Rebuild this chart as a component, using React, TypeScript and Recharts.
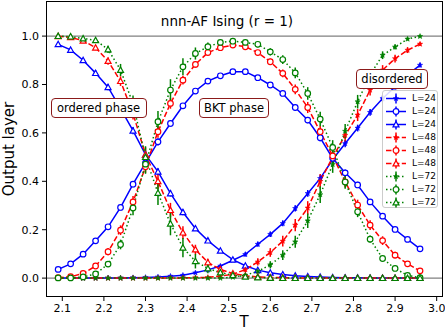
import React from 'react'
import { LineChart, Line, XAxis, YAxis, ReferenceLine, ErrorBar } from 'recharts'

// temperatures
const temps = [2.09, 2.12, 2.15, 2.18, 2.21, 2.24, 2.27, 2.30, 2.33, 2.36, 2.39, 2.42, 2.45, 2.48, 2.51,
  2.54, 2.57, 2.60, 2.63, 2.66, 2.69, 2.72, 2.75, 2.78, 2.81, 2.84, 2.87, 2.90, 2.93, 2.96]

// L=24 outputs (disordered, BKT, ordered) and errors
const l24Dis = [0, 0, 0, 0.0005, 0.001, 0.001, 0.002, 0.003, 0.005, 0.008, 0.012, 0.022, 0.034, 0.05, 0.074,
  0.098, 0.14, 0.181, 0.226, 0.288, 0.35, 0.412, 0.49, 0.556, 0.62, 0.685, 0.742, 0.79, 0.84, 0.88]
const l24Bkt = [0.036, 0.059, 0.099, 0.154, 0.212, 0.292, 0.388, 0.476, 0.563, 0.639, 0.712, 0.773, 0.814, 0.836, 0.853,
  0.853, 0.828, 0.798, 0.763, 0.705, 0.653, 0.58, 0.495, 0.435, 0.385, 0.315, 0.256, 0.201, 0.16, 0.121]
const l24Ord = [0.966, 0.943, 0.9, 0.847, 0.789, 0.7, 0.609, 0.51, 0.44, 0.35, 0.272, 0.205, 0.155, 0.113, 0.076,
  0.051, 0.033, 0.022, 0.015, 0.01, 0.007, 0.005, 0.003, 0.002, 0.002, 0.001, 0.001, 0, 0, 0]
const l24DisErr = [0, 0, 0, 0, 0, 0.001, 0.001, 0.001, 0.002, 0.002, 0.003, 0.004, 0.005, 0.006, 0.008,
  0.009, 0.01, 0.011, 0.012, 0.013, 0.014, 0.015, 0.015, 0.015, 0.014, 0.014, 0.013, 0.012, 0.011, 0.01]
const l24BktErr = [0.004, 0.005, 0.006, 0.008, 0.01, 0.012, 0.013, 0.015, 0.015, 0.014, 0.012, 0.01, 0.008, 0.007, 0.006,
  0.006, 0.007, 0.008, 0.01, 0.012, 0.013, 0.014, 0.015, 0.014, 0.013, 0.012, 0.01, 0.008, 0.006, 0.005]
const l24OrdErr = [0.006, 0.008, 0.01, 0.012, 0.013, 0.014, 0.015, 0.015, 0.014, 0.013, 0.012, 0.01, 0.008, 0.007, 0.006,
  0.005, 0.004, 0.003, 0.002, 0.002, 0.001, 0.001, 0.001, 0, 0, 0, 0, 0, 0, 0]

// L=48
const l48Dis = [0, 0, 0, 0, 0, 0, 0, 0, 0.0005, 0.001, 0.001, 0.002, 0.003, 0.008, 0.016,
  0.035, 0.067, 0.106, 0.153, 0.219, 0.29, 0.4, 0.5, 0.59, 0.674, 0.777, 0.86, 0.907, 0.942, 0.967]
const l48Bkt = [0.002, 0.006, 0.019, 0.05, 0.109, 0.198, 0.315, 0.46, 0.605, 0.722, 0.818, 0.883, 0.932, 0.952, 0.963,
  0.956, 0.932, 0.894, 0.846, 0.78, 0.705, 0.605, 0.505, 0.398, 0.302, 0.219, 0.155, 0.095, 0.059, 0.03]
const l48Ord = [0.999, 0.995, 0.981, 0.952, 0.897, 0.814, 0.68, 0.51, 0.4, 0.281, 0.188, 0.118, 0.065, 0.036, 0.019,
  0.01, 0.005, 0.003, 0.002, 0.001, 0.001, 0, 0, 0, 0, 0, 0, 0, 0, 0]
const l48DisErr = [0, 0, 0, 0, 0, 0, 0, 0, 0.001, 0.001, 0.002, 0.002, 0.003, 0.005, 0.008,
  0.01, 0.015, 0.018, 0.022, 0.025, 0.028, 0.03, 0.03, 0.028, 0.025, 0.022, 0.02, 0.016, 0.012, 0.008]
const l48BktErr = [0.001, 0.003, 0.006, 0.01, 0.015, 0.02, 0.024, 0.026, 0.025, 0.022, 0.018, 0.014, 0.01, 0.008, 0.007,
  0.008, 0.01, 0.013, 0.016, 0.02, 0.023, 0.025, 0.025, 0.024, 0.022, 0.02, 0.018, 0.014, 0.01, 0.006]
const l48OrdErr = [0.001, 0.003, 0.006, 0.01, 0.015, 0.02, 0.025, 0.03, 0.032, 0.03, 0.026, 0.02, 0.015, 0.01, 0.006,
  0.004, 0.002, 0.001, 0, 0, 0, 0, 0, 0, 0, 0, 0, 0, 0, 0]

// L=72
const l72Dis = [0, 0, 0, 0, 0, 0, 0, 0, 0, 0, 0, 0, 0, 0, 0.004,
  0.012, 0.028, 0.055, 0.095, 0.15, 0.237, 0.345, 0.47, 0.607, 0.729, 0.84, 0.921, 0.955, 0.988, 0.999]
const l72Bkt = [0.001, 0.001, 0.005, 0.017, 0.058, 0.139, 0.29, 0.471, 0.646, 0.777, 0.873, 0.928, 0.956, 0.974, 0.979,
  0.974, 0.966, 0.935, 0.903, 0.848, 0.763, 0.657, 0.54, 0.397, 0.274, 0.161, 0.081, 0.04, 0.011, 0.002]
const l72Ord = [1.0, 0.998, 0.99, 0.983, 0.945, 0.86, 0.72, 0.5, 0.352, 0.225, 0.126, 0.07, 0.04, 0.023, 0.012,
  0.006, 0.003, 0.001, 0, 0, 0, 0, 0, 0, 0, 0, 0, 0, 0, 0]
const l72DisErr = [0, 0, 0, 0, 0, 0, 0, 0, 0, 0, 0, 0, 0, 0.001, 0.003,
  0.006, 0.01, 0.015, 0.02, 0.025, 0.03, 0.035, 0.035, 0.03, 0.028, 0.022, 0.016, 0.01, 0.006, 0.003]
const l72BktErr = [0, 0.001, 0.003, 0.006, 0.012, 0.02, 0.03, 0.04, 0.045, 0.045, 0.035, 0.025, 0.018, 0.012, 0.01,
  0.01, 0.012, 0.015, 0.018, 0.022, 0.026, 0.03, 0.03, 0.028, 0.022, 0.015, 0.01, 0.006, 0.003, 0.001]
const l72OrdErr = [0.001, 0.002, 0.004, 0.008, 0.015, 0.025, 0.035, 0.045, 0.05, 0.048, 0.04, 0.03, 0.02, 0.012, 0.007,
  0.004, 0.002, 0.001, 0, 0, 0, 0, 0, 0, 0, 0, 0, 0, 0, 0]

const xTicks = [2.1, 2.2, 2.3, 2.4, 2.5, 2.6, 2.7, 2.8, 2.9, 3.0]
const yTicks = [0, 0.2, 0.4, 0.6, 0.8, 1.0]

const FONT = '"DejaVu Sans", sans-serif'

type Kind = 'star' | 'circle' | 'triangle'

const series = [
  { key: 'a0', name: 'L=24', color: '#0000ff', dash: undefined, kind: 'star' as Kind, vals: l24Dis, err: l24DisErr },
  { key: 'a1', name: 'L=24', color: '#0000ff', dash: undefined, kind: 'circle' as Kind, vals: l24Bkt, err: l24BktErr },
  { key: 'a2', name: 'L=24', color: '#0000ff', dash: undefined, kind: 'triangle' as Kind, vals: l24Ord, err: l24OrdErr },
  { key: 'b0', name: 'L=48', color: '#ff0000', dash: '5.5 2.4', kind: 'star' as Kind, vals: l48Dis, err: l48DisErr },
  { key: 'b1', name: 'L=48', color: '#ff0000', dash: '5.5 2.4', kind: 'circle' as Kind, vals: l48Bkt, err: l48BktErr },
  { key: 'b2', name: 'L=48', color: '#ff0000', dash: '5.5 2.4', kind: 'triangle' as Kind, vals: l48Ord, err: l48OrdErr },
  { key: 'c0', name: 'L=72', color: '#008000', dash: '1.5 2.5', kind: 'star' as Kind, vals: l72Dis, err: l72DisErr },
  { key: 'c1', name: 'L=72', color: '#008000', dash: '1.5 2.5', kind: 'circle' as Kind, vals: l72Bkt, err: l72BktErr },
  { key: 'c2', name: 'L=72', color: '#008000', dash: '1.5 2.5', kind: 'triangle' as Kind, vals: l72Ord, err: l72OrdErr },
]

const data = temps.map((t, i) => {
  const row: Record<string, number> = { T: t }
  series.forEach(s => {
    row[s.key] = s.vals[i]
    row[s.key + 'e'] = s.err[i]
  })
  return row
})

function markerShape(kind: Kind, color: string, cx: number, cy: number, key?: number | string) {
  if (kind === 'circle') {
    return <circle key={key} cx={cx} cy={cy} r={2.8} fill="#fff" stroke={color} strokeWidth={1.2} />
  }
  if (kind === 'triangle') {
    const r = 3
    return <polygon key={key} points={`${cx},${cy - r} ${cx - r},${cy + r * 0.8} ${cx + r},${cy + r * 0.8}`}
      fill="#fff" stroke={color} strokeWidth={1.2} />
  }
  const pts: string[] = []
  for (let k = 0; k < 10; k++) {
    const rad = k % 2 === 0 ? 2.8 : 1.2
    const a = -Math.PI / 2 + (k * Math.PI) / 5
    pts.push(`${cx + rad * Math.cos(a)},${cy + rad * Math.sin(a)}`)
  }
  return <polygon key={key} points={pts.join(' ')} fill={color} stroke={color} strokeWidth={0.5} />
}

const makeDot = (kind: Kind, color: string) => (p: any) => {
  if (p.cx == null || p.cy == null) return <g key={p.index} />
  return markerShape(kind, color, p.cx, p.cy, p.index)
}

const phaseBox: React.CSSProperties = {
  position: 'absolute', boxSizing: 'border-box', background: '#fff', border: '1.2px solid #8b1a1a',
  borderRadius: 4, fontFamily: FONT, fontSize: 11.5, color: '#000', display: 'flex',
  alignItems: 'center', justifyContent: 'center', whiteSpace: 'nowrap',
}

export default function App() {
  return (
    <div style={{ position: 'absolute', left: 0, top: 0, width: 445, height: 332, background: '#fff' }}>
      <LineChart width={445} height={332} data={data} margin={{ top: 1, right: 2.5, bottom: 0, left: 0 }}>
        <XAxis dataKey="T" type="number" domain={[2.0608, 3.014]} ticks={xTicks} allowDataOverflow
          tickFormatter={(v: number) => v.toFixed(1)} height={35} axisLine={false} tickSize={4} tickMargin={3}
          tickLine={{ stroke: '#000' }} tick={{ fill: '#000', fontSize: 11, fontFamily: FONT }} />
        <YAxis type="number" domain={[-0.078, 1.145]} ticks={yTicks} allowDataOverflow
          tickFormatter={(v: number) => v.toFixed(1)} width={46} axisLine={false} tickSize={4} tickMargin={3}
          tickLine={{ stroke: '#000' }} tick={{ fill: '#000', fontSize: 11, fontFamily: FONT }} />
        <ReferenceLine y={0} stroke="#808080" strokeWidth={1.3} />
        <ReferenceLine y={1} stroke="#808080" strokeWidth={1.3} />
        {series.map(s => (
          <Line key={s.key} dataKey={s.key} stroke={s.color} strokeWidth={1.5} strokeDasharray={s.dash}
            dot={makeDot(s.kind, s.color)} activeDot={false} isAnimationActive={false}>
            <ErrorBar dataKey={s.key + 'e'} width={0} stroke={s.color} strokeWidth={1.5} direction="y" />
          </Line>
        ))}
      </LineChart>

      {/* plot frame */}
      <div style={{ position: 'absolute', left: 46, top: 1, width: 397, height: 296, border: '1px solid #000', boxSizing: 'border-box', pointerEvents: 'none' }} />

      <div style={{ position: 'absolute', left: 227, top: 21, transform: 'translate(-50%,-50%)', fontFamily: FONT, fontSize: 13.5, whiteSpace: 'nowrap' }}>
        nnn-AF Ising (r = 1)
      </div>

      <div style={{ ...phaseBox, left: 50.5, top: 98, width: 96, height: 20 }}>ordered phase</div>
      <div style={{ ...phaseBox, left: 199, top: 98, width: 70, height: 20 }}>BKT phase</div>
      <div style={{ ...phaseBox, left: 356, top: 69, width: 72, height: 20 }}>disordered</div>

      {/* legend */}
      <div style={{ position: 'absolute', left: 382, top: 90, width: 56, height: 118, boxSizing: 'border-box', background: 'rgba(255,255,255,0.85)', border: '1px solid #ccc', borderRadius: 3 }}>
        {series.map((s, i) => (
          <div key={s.key} style={{ position: 'absolute', left: 0, top: 0.5 + i * 13.1, height: 13, width: 56 }}>
            <svg width={24} height={13} style={{ position: 'absolute', left: 2, top: 0 }}>
              <line x1={1} y1={6.5} x2={21} y2={6.5} stroke={s.color} strokeWidth={1.5} strokeDasharray={s.dash} />
              <line x1={11} y1={1.5} x2={11} y2={11.5} stroke={s.color} strokeWidth={1.5} />
              {markerShape(s.kind, s.color, 11, 6.5)}
            </svg>
            <span style={{ position: 'absolute', left: 29, top: 0, lineHeight: '13px', fontFamily: FONT, fontSize: 9 }}>{s.name}</span>
          </div>
        ))}
      </div>

      <div style={{ position: 'absolute', left: 244, top: 322, transform: 'translate(-50%,-50%)', fontFamily: FONT, fontSize: 15, lineHeight: '17px' }}>T</div>
      <div style={{ position: 'absolute', left: 9, top: 149, transform: 'translate(-50%,-50%) rotate(-90deg)', fontFamily: FONT, fontSize: 15, whiteSpace: 'nowrap' }}>
        Output layer
      </div>
    </div>
  )
}
